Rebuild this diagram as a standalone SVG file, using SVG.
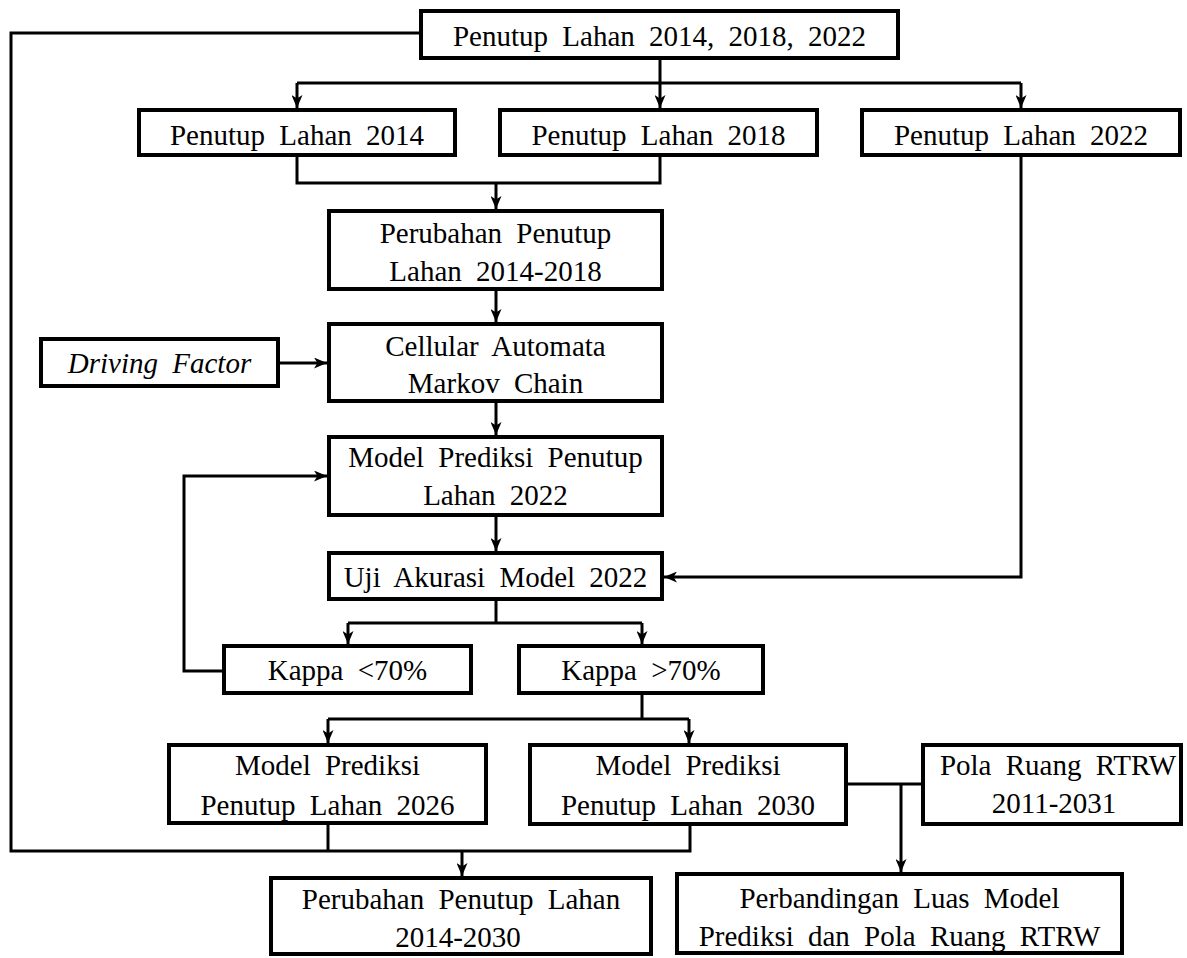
<svg xmlns="http://www.w3.org/2000/svg" width="1187" height="958" viewBox="0 0 1187 958">
<style>
.box{fill:#fff;stroke:#000;stroke-width:4}
.ln{fill:none;stroke:#000;stroke-width:3}
.ar{fill:none;stroke:#000;stroke-width:3;marker-end:url(#ah)}
text{font-family:"Liberation Serif","Times New Roman",serif;font-size:29px;fill:#000;text-anchor:middle;word-spacing:7px}
.it{font-style:italic}
</style>
<defs>
<marker id="ah" markerUnits="userSpaceOnUse" markerWidth="13" markerHeight="11" refX="13" refY="5.5" orient="auto">
<path d="M0,0 L13,5.5 L0,11 L3.5,5.5 z" fill="#000"/>
</marker>
</defs>
<rect width="1187" height="958" fill="#fff"/>
<g id="connectors">
<path class="ln" d="M419,33 H11 V851 H690 V826"/>
<path class="ln" d="M328,825 V851"/>
<path class="ar" d="M462,851 V876"/>
<path class="ln" d="M660,60 V83"/>
<path class="ln" d="M297,83 H1021"/>
<path class="ar" d="M297,83 V108"/>
<path class="ar" d="M660,83 V108"/>
<path class="ar" d="M1021,83 V108"/>
<path class="ln" d="M297,157 V183 H660 V157"/>
<path class="ar" d="M496,183 V209"/>
<path class="ar" d="M496,291 V322"/>
<path class="ar" d="M496,403 V435"/>
<path class="ar" d="M496,517 V551"/>
<path class="ar" d="M280,363 H327"/>
<path class="ar" d="M1021,157 V577 H664"/>
<path class="ln" d="M496,601 V623"/>
<path class="ln" d="M348,623 H642"/>
<path class="ar" d="M348,623 V644"/>
<path class="ar" d="M642,623 V644"/>
<path class="ar" d="M222,671 H184 V476 H327"/>
<path class="ln" d="M642,695 V719"/>
<path class="ln" d="M328,719 H689"/>
<path class="ar" d="M328,719 V743"/>
<path class="ar" d="M689,719 V743"/>
<path class="ln" d="M848,784 H921"/>
<path class="ar" d="M901,784 V872"/>
</g>
<g id="n_top"><rect class="box" x="421" y="11" width="477" height="47"/><text x="659.5" y="46">Penutup Lahan 2014, 2018, 2022</text></g>
<g id="n_2014"><rect class="box" x="139" y="110" width="316" height="45"/><text x="297" y="145">Penutup Lahan 2014</text></g>
<g id="n_2018"><rect class="box" x="500" y="110" width="317" height="45"/><text x="658.5" y="145">Penutup Lahan 2018</text></g>
<g id="n_2022"><rect class="box" x="862" y="110" width="318" height="45"/><text x="1021" y="145">Penutup Lahan 2022</text></g>
<g id="n_perubahan1"><rect class="box" x="329" y="211" width="333" height="78"/><text x="495.5" y="243">Perubahan Penutup</text><text x="495.5" y="281">Lahan 2014-2018</text></g>
<g id="n_ca"><rect class="box" x="329" y="324" width="333" height="77"/><text x="495.5" y="356">Cellular Automata</text><text x="495.5" y="393">Markov Chain</text></g>
<g id="n_driving"><rect class="box" x="41" y="339" width="237" height="47"/><text class="it" x="159.5" y="373">Driving Factor</text></g>
<g id="n_model2022"><rect class="box" x="329" y="437" width="333" height="78"/><text x="495.5" y="467">Model Prediksi Penutup</text><text x="495.5" y="505">Lahan 2022</text></g>
<g id="n_uji"><rect class="box" x="329" y="553" width="333" height="46"/><text x="495.5" y="587">Uji Akurasi Model 2022</text></g>
<g id="n_kappa_lo"><rect class="box" x="224" y="646" width="247" height="47"/><text x="347.5" y="680">Kappa &lt;70%</text></g>
<g id="n_kappa_hi"><rect class="box" x="519" y="646" width="244" height="47"/><text x="641" y="680">Kappa &gt;70%</text></g>
<g id="n_m2026"><rect class="box" x="169" y="745" width="317" height="78"/><text x="327.5" y="775">Model Prediksi</text><text x="327.5" y="815">Penutup Lahan 2026</text></g>
<g id="n_m2030"><rect class="box" x="530" y="745" width="316" height="79"/><text x="688" y="775">Model Prediksi</text><text x="688" y="815">Penutup Lahan 2030</text></g>
<g id="n_pola"><rect class="box" x="923" y="745" width="258" height="79"/><text x="1058" y="775">Pola Ruang RTRW</text><text x="1054" y="813">2011-2031</text></g>
<g id="n_perubahan2"><rect class="box" x="271" y="878" width="380" height="76"/><text x="461" y="909">Perubahan Penutup Lahan</text><text x="458" y="947">2014-2030</text></g>
<g id="n_perbandingan"><rect class="box" x="677" y="874" width="445" height="79"/><text x="899.5" y="908">Perbandingan Luas Model</text><text x="899.5" y="946">Prediksi dan Pola Ruang RTRW</text></g>
</svg>
